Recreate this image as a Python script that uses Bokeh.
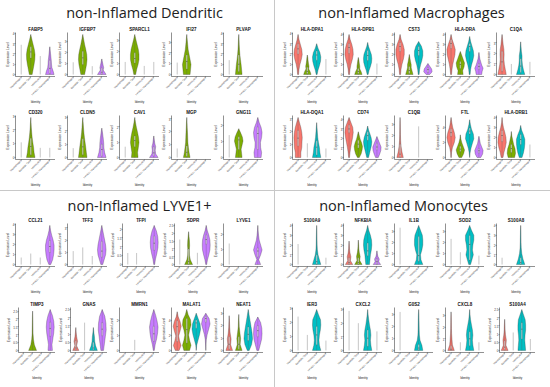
import math
from bokeh.plotting import figure
from bokeh.models import Range1d, FixedTicker, Div, Spacer
from bokeh.layouts import row, column
from bokeh.core.properties import value
from bokeh.embed import file_html
from bokeh.resources import INLINE

GROUPS = ["Macrophages", "Dendritic Cells", "Monocytes", "LYVE1+ Macrophages"]
COLORS = ["#F8766D", "#7CAE00", "#00BFC4", "#C77CFF"]

DEN_TITLE = "non-Inflamed Dendritic"
DEN_GENES = ["FABP5", "IGFBP7", "SPARCL1", "IFI27", "PLVAP",
             "CD320", "CLDN5", "CAV1", "MGP", "GNG11"]
DEN_STEP = [1, 1, 1, 1, 1, 1, 1, 1, 1, 1]
DEN_TOP = [[2.9, 3.9, 1.8, 2.7], [1.1, 3.6, 0.75, 1.4], [1.1, 3.5, 0.75, 1.1],
           [1.1, 3.7, 0.0, 0.0], [1.4, 3.9, 0.0, 0.0], [1.1, 2.9, 0.7, 0.7],
           [0.7, 3.0, 0.0, 2.2], [0.7, 2.6, 0.0, 1.4], [0.7, 3.1, 0.0, 0.0],
           [1.4, 1.8, 0.0, 2.5]]
DEN_WIDTH = [
    [[], [0.15, 0.25, 0.35, 0.43, 0.45, 0.38, 0.25, 0.12], [], [0.45, 0.35, 0.22, 0.18, 0.16, 0.12, 0.08, 0.04]],
    [[], [0.2, 0.3, 0.4, 0.45, 0.42, 0.32, 0.2, 0.1], [], [0.45, 0.3, 0.15, 0.2, 0.15, 0.1, 0.05]],
    [[], [0.1, 0.2, 0.35, 0.45, 0.45, 0.38, 0.25, 0.12], [], []],
    [[], [0.35, 0.4, 0.45, 0.35, 0.25, 0.15, 0.1, 0.05], [], []],
    [[], [0.35, 0.3, 0.25, 0.18, 0.12, 0.08, 0.05, 0.03], [], []],
    [[], [0.45, 0.35, 0.3, 0.22, 0.15, 0.1, 0.06, 0.03], [], []],
    [[], [0.45, 0.38, 0.32, 0.25, 0.18, 0.12, 0.08, 0.04], [], [0.45, 0.3, 0.22, 0.2, 0.15, 0.08]],
    [[], [0.35, 0.3, 0.38, 0.45, 0.4, 0.3, 0.18, 0.08], [], [0.45, 0.2, 0.15, 0.2, 0.1, 0.05]],
    [[], [0.35, 0.25, 0.18, 0.12, 0.1, 0.08, 0.05, 0.03], [], []],
    [[], [0.35, 0.3, 0.25, 0.35, 0.45, 0.38, 0.2], [], [0.35, 0.4, 0.3, 0.28, 0.4, 0.45, 0.35, 0.15]],
]
DEN_BOX = [
    [None, (1.6, 2.2, 2.7), None, (0.1, 0.6, 1.4)],
    [None, (0.9, 1.5, 2.1), None, (0.05, 0.2, 0.6)],
    [None, (1.0, 1.4, 1.9), None, None],
    [None, (0.5, 1.2, 1.8), None, None],
    [None, (0.3, 1.0, 1.9), None, None],
    [None, (0.2, 0.8, 1.4), None, None],
    [None, (0.2, 0.8, 1.4), None, (0.1, 0.6, 1.0)],
    [None, (0.7, 1.1, 1.4), None, (0.1, 0.3, 0.7)],
    [None, (0.1, 0.4, 0.9), None, None],
    [None, (0.5, 1.1, 1.3), None, (0.5, 1.5, 1.9)],
]

MAC_TITLE = "non-Inflamed Macrophages"
MAC_GENES = ["HLA-DPA1", "HLA-DPB1", "CST3", "HLA-DRA", "C1QA",
             "HLA-DQA1", "CD74", "C1QB", "FTL", "HLA-DRB1"]
MAC_STEP = [1, 1, 1, 1, 1, 1, 1, 1, 2, 1]
MAC_TOP = [[3.9, 1.9, 3.0, 1.5], [4.0, 1.7, 3.2, 1.1], [4.0, 2.0, 3.3, 1.1],
           [4.0, 2.3, 3.8, 2.2], [3.8, 1.0, 3.1, 1.2], [3.1, 1.1, 2.7, 0.7],
           [4.2, 2.7, 3.3, 2.2], [3.6, 0.0, 2.8, 0.0], [5.3, 3.0, 5.0, 2.8],
           [4.0, 2.6, 3.2, 1.3]]
MAC_WIDTH = [
    [[0.05, 0.1, 0.2, 0.35, 0.45, 0.4, 0.25, 0.1], [0.4, 0.3, 0.15, 0.18, 0.12, 0.08, 0.05],
     [0.05, 0.15, 0.3, 0.42, 0.45, 0.35, 0.15], []],
    [[0.05, 0.1, 0.2, 0.35, 0.45, 0.42, 0.3, 0.12], [0.4, 0.3, 0.15, 0.15, 0.1, 0.06],
     [0.05, 0.15, 0.3, 0.42, 0.45, 0.4, 0.25, 0.1], []],
    [[0.05, 0.1, 0.2, 0.35, 0.45, 0.45, 0.32, 0.12], [0.4, 0.3, 0.2, 0.2, 0.12, 0.06],
     [0.05, 0.1, 0.2, 0.35, 0.45, 0.45, 0.3], [0.2, 0.45, 0.4, 0.2]],
    [[0.05, 0.1, 0.18, 0.3, 0.42, 0.45, 0.3, 0.12], [0.3, 0.25, 0.4, 0.45, 0.3, 0.15],
     [0.05, 0.1, 0.2, 0.35, 0.45, 0.4, 0.25, 0.1], [0.3, 0.35, 0.45, 0.3, 0.2, 0.1, 0.05]],
    [[0.45, 0.35, 0.25, 0.2, 0.22, 0.2, 0.12, 0.06], [],
     [0.45, 0.3, 0.2, 0.15, 0.15, 0.08, 0.04], []],
    [[0.3, 0.3, 0.4, 0.42, 0.45, 0.4, 0.3, 0.15], [],
     [0.45, 0.35, 0.3, 0.2, 0.12, 0.08, 0.04], []],
    [[0.05, 0.1, 0.18, 0.28, 0.38, 0.45, 0.4, 0.2], [0.1, 0.3, 0.4, 0.45, 0.35, 0.2, 0.1],
     [0.1, 0.2, 0.3, 0.4, 0.45, 0.38, 0.25, 0.1], [0.15, 0.3, 0.42, 0.45, 0.3, 0.15]],
    [[0.35, 0.2, 0.1, 0.06, 0.04, 0.03, 0.02], [], [], []],
    [[0.02, 0.05, 0.15, 0.35, 0.45, 0.35, 0.18, 0.08], [0.15, 0.35, 0.45, 0.3, 0.15, 0.05],
     [0.0, 0.05, 0.15, 0.3, 0.45, 0.4, 0.2, 0.08], [0.2, 0.4, 0.45, 0.3, 0.15, 0.08]],
    [[0.1, 0.2, 0.35, 0.45, 0.42, 0.3, 0.15, 0.05], [0.35, 0.45, 0.4, 0.25, 0.15, 0.05],
     [0.15, 0.3, 0.4, 0.45, 0.45, 0.3, 0.1], []],
]
MAC_BOX = [
    [(2.0, 2.5, 3.0), (0.1, 0.3, 0.7), (1.4, 1.9, 2.3), None],
    [(2.1, 2.7, 3.1), (0.1, 0.3, 0.6), (1.4, 1.9, 2.4), None],
    [(2.3, 2.8, 3.2), (0.1, 0.4, 0.8), (1.9, 2.4, 2.8), (0.2, 0.5, 0.7)],
    [(2.6, 3.1, 3.5), (0.6, 1.0, 1.3), (2.3, 2.8, 3.1), (0.5, 0.8, 1.1)],
    [(0.3, 1.2, 2.2), None, (0.2, 0.8, 1.5), None],
    [(0.9, 1.5, 2.1), None, (0.2, 0.8, 1.3), None],
    [(2.6, 3.0, 3.4), (1.0, 1.4, 1.8), (1.8, 2.3, 2.7), (0.8, 1.1, 1.5)],
    [(0.05, 0.3, 1.2), None, None, None],
    [(2.8, 3.3, 3.8), (0.8, 1.1, 1.5), (3.1, 3.5, 3.9), (0.6, 0.9, 1.2)],
    [(1.6, 2.2, 2.7), (0.5, 0.9, 1.3), (1.3, 1.8, 2.3), None],
]

LYV_TITLE = "non-Inflamed LYVE1+"
LYV_GENES = ["CCL21", "TFF3", "TFPI", "SDPR", "LYVE1",
             "TIMP3", "GNAS", "MMRN1", "MALAT1", "NEAT1"]
LYV_STEP = [1, 1, 0.5, 0.5, 1, 0.5, 0.5, 1, 2, 1]
LYV_TOP = [[0.7, 1.1, 0.7, 3.9], [1.1, 1.4, 0.7, 3.2], [0.65, 0.65, 0.0, 2.2],
           [1.6, 2.1, 0.75, 2.5], [1.4, 0.0, 0.0, 2.6], [0.0, 2.5, 0.0, 2.6],
           [1.4, 1.7, 1.4, 2.5], [0.0, 0.7, 0.0, 2.7], [5.2, 5.5, 5.0, 5.0],
           [2.8, 2.9, 3.3, 2.7]]
LYV_WIDTH = [
    [[], [], [], [0.1, 0.3, 0.4, 0.45, 0.45, 0.35, 0.2, 0.08]],
    [[], [], [], [0.1, 0.25, 0.4, 0.45, 0.4, 0.3, 0.2, 0.1]],
    [[], [], [], [0.05, 0.15, 0.3, 0.42, 0.45, 0.4, 0.25]],
    [[], [0.45, 0.2, 0.1, 0.08, 0.12, 0.1, 0.05], [], [0.05, 0.15, 0.3, 0.42, 0.45, 0.42, 0.3, 0.12]],
    [[], [], [], [0.3, 0.1, 0.3, 0.45, 0.3, 0.15, 0.08, 0.03]],
    [[], [0.45, 0.2, 0.1, 0.05, 0.04, 0.03, 0.02], [], [0.25, 0.2, 0.3, 0.4, 0.45, 0.4, 0.25]],
    [[0.35, 0.1, 0.2, 0.1, 0.04], [], [0.45, 0.25, 0.15, 0.12, 0.05], [0.15, 0.25, 0.35, 0.45, 0.42, 0.3]],
    [[], [], [], [0.05, 0.15, 0.3, 0.4, 0.45, 0.35, 0.2]],
    [[0.2, 0.4, 0.25, 0.15, 0.3, 0.42, 0.3, 0.1], [0.3, 0.45, 0.3, 0.2, 0.3, 0.45, 0.4, 0.15],
     [0.0, 0.05, 0.2, 0.35, 0.45, 0.4, 0.2], [0.0, 0.02, 0.05, 0.15, 0.3, 0.45, 0.35]],
    [[0.35, 0.15, 0.2, 0.1, 0.05, 0.03], [0.35, 0.15, 0.2, 0.12, 0.05, 0.03],
     [0.1, 0.35, 0.45, 0.4, 0.3, 0.2, 0.1], [0.1, 0.25, 0.4, 0.45, 0.42, 0.3]],
]
LYV_BOX = [
    [None, None, None, (1.2, 1.8, 2.4)],
    [None, None, None, (0.6, 1.1, 1.9)],
    [None, None, None, (0.8, 1.2, 1.6)],
    [None, (0.02, 0.2, 1.0), None, (1.3, 1.6, 1.9)],
    [None, None, None, (0.5, 0.9, 1.1)],
    [None, None, None, (0.9, 1.4, 1.8)],
    [(0.05, 0.15, 0.6), None, (0.05, 0.15, 0.5), (0.9, 1.3, 1.7)],
    [None, None, None, (0.6, 1.1, 1.6)],
    [(1.2, 3.2, 4.0), (1.0, 2.8, 4.3), (3.0, 3.7, 4.1), (3.8, 4.3, 4.6)],
    [(0.1, 0.5, 1.1), (0.1, 0.5, 1.1), (0.8, 1.3, 1.9), (1.1, 1.6, 2.0)],
]

MON_TITLE = "non-Inflamed Monocytes"
MON_GENES = ["S100A9", "NFKBIA", "IL1B", "SOD2", "S100A8",
             "IER3", "CXCL2", "G0S2", "CXCL8", "S100A4"]
MON_STEP = [1, 1, 1, 1, 1, 1, 1, 1, 1, 0.5]
MON_TOP = [[2.1, 0.0, 4.0, 0.7], [2.4, 2.5, 4.0, 1.4], [3.3, 0.0, 3.5, 0.0],
           [2.3, 1.1, 3.5, 0.8], [0.7, 0.0, 4.0, 0.0], [2.4, 1.1, 2.9, 0.7],
           [2.9, 2.0, 3.0, 1.4], [3.2, 0.0, 3.4, 0.0], [3.3, 0.7, 3.5, 0.7],
           [1.9, 1.1, 2.5, 0.7]]
MON_WIDTH = [
    [[], [], [0.45, 0.3, 0.15, 0.08, 0.05, 0.04, 0.03, 0.02], []],
    [[0.4, 0.15, 0.2, 0.1, 0.05, 0.03], [0.4, 0.15, 0.2, 0.1, 0.05, 0.03],
     [0.2, 0.25, 0.3, 0.4, 0.45, 0.42, 0.3, 0.12], [0.4, 0.2, 0.25, 0.1, 0.04]],
    [[], [], [0.45, 0.25, 0.2, 0.35, 0.45, 0.45, 0.4, 0.2], []],
    [[], [], [0.1, 0.25, 0.4, 0.3, 0.35, 0.45, 0.45, 0.2], []],
    [[], [], [0.45, 0.25, 0.12, 0.06, 0.04, 0.03, 0.02], []],
    [[], [], [0.45, 0.3, 0.25, 0.3, 0.4, 0.45, 0.42, 0.2], []],
    [[], [], [0.45, 0.35, 0.3, 0.35, 0.3, 0.2, 0.12, 0.05], []],
    [[], [], [0.45, 0.35, 0.15, 0.08, 0.06, 0.05, 0.04, 0.03], []],
    [[0.35, 0.15, 0.1, 0.06, 0.04, 0.03, 0.02], [], [0.45, 0.35, 0.3, 0.35, 0.3, 0.2, 0.1, 0.04], []],
    [[0.4, 0.15, 0.2, 0.1, 0.05, 0.03], [], [0.45, 0.4, 0.35, 0.38, 0.45, 0.45, 0.4, 0.2], []],
]
MON_BOX = [
    [None, None, (0.05, 0.3, 1.0), None],
    [(0.05, 0.2, 0.7), (0.05, 0.2, 0.7), (0.9, 1.4, 2.2), (0.05, 0.3, 0.6)],
    [None, None, (0.3, 0.8, 2.5), None],
    [None, None, (0.4, 1.8, 2.6), None],
    [None, None, (0.05, 0.2, 0.7), None],
    [None, None, (0.4, 1.1, 1.7), None],
    [None, None, (0.3, 0.9, 1.5), None],
    [None, None, (0.05, 0.2, 0.5), None],
    [(0.02, 0.1, 0.4), None, (0.4, 1.0, 1.6), None],
    [(0.05, 0.2, 0.6), None, (0.7, 1.3, 1.7), None],
]

FONT = "Liberation Sans"
LINE_GRAY = "#c8c8c8"


def mini(gene, tops, widths, boxes, step, w, h, btop, bbot):
    dmax = max(tops)
    p = figure(width=w, height=h, output_backend="svg", toolbar_location=None,
               x_range=Range1d(0.4, 4.6), y_range=Range1d(-0.05 * dmax, 1.05 * dmax),
               min_border_left=10, min_border_right=0, min_border_top=btop,
               min_border_bottom=bbot, title=gene, margin=0)
    p.title.text_font = FONT
    p.title.text_font_size = "4.5px"
    p.title.text_font_style = "bold"
    p.title.align = "center"
    p.title.standoff = 2
    p.title.text_color = "#111111"
    p.outline_line_color = None
    p.grid.visible = False
    p.background_fill_color = "white"
    p.border_fill_color = "white"

    for gi in range(4):
        c = gi + 1
        top = tops[gi]
        ws = widths[gi]
        if top <= 0:
            continue
        if ws:
            n = len(ws)
            lv = [top * k / n for k in range(n + 1)]
            wf = list(ws) + [0.0]
            xs = [c + w_ for w_ in wf] + [c - w_ for w_ in reversed(wf)]
            ys = lv + list(reversed(lv))
            p.patch(xs, ys, fill_color=COLORS[gi], line_color="#333333", line_width=0.3)
            p.segment(x0=[c], y0=[0], x1=[c], y1=[top], line_color="#555555", line_width=0.4, line_alpha=0.7)
        else:
            p.segment(x0=[c], y0=[0], x1=[c], y1=[top], line_color="#a0a0a0", line_width=0.6)
        b = boxes[gi]
        if b is not None:
            q1, med, q3 = b
            p.quad(left=[c - 0.07], right=[c + 0.07], bottom=[q1], top=[q3],
                   fill_color="white", fill_alpha=0.6, line_color="#666666", line_width=0.3)
            p.segment(x0=[c - 0.07], y0=[med], x1=[c + 0.07], y1=[med], line_color="#333333", line_width=0.5)

    yt = []
    v = 0.0
    while v <= 1.05 * dmax + 1e-9:
        yt.append(round(v, 2))
        v += step
    p.yaxis.ticker = FixedTicker(ticks=yt)
    p.xaxis.ticker = FixedTicker(ticks=[1, 2, 3, 4])
    p.xaxis.major_label_overrides = {1: GROUPS[0], 2: GROUPS[1], 3: GROUPS[2], 4: GROUPS[3]}
    p.xaxis.major_label_orientation = math.pi / 4
    p.xaxis.axis_label = "Identity"
    p.yaxis.axis_label = "Expression Level"
    for ax in (p.xaxis[0], p.yaxis[0]):
        ax.axis_line_width = 0.5
        ax.axis_line_color = "#222222"
        ax.major_tick_line_width = 0.4
        ax.major_tick_line_color = "#222222"
        ax.major_tick_out = 1
        ax.major_tick_in = 0
        ax.minor_tick_line_color = None
        ax.major_label_text_font = FONT
        ax.major_label_text_color = "#333333"
        ax.major_label_standoff = 0
        ax.axis_label_text_font = FONT
        ax.axis_label_text_font_style = "normal"
        ax.axis_label_text_color = "#222222"
        ax.axis_label_standoff = 0
    p.xaxis.major_label_text_font_size = "2.5px"
    p.yaxis.major_label_text_font_size = "3px"
    p.xaxis.axis_label_text_font_size = "3px"
    p.yaxis.axis_label_text_font_size = "3.2px"
    return p


def title_fig(text, w, h, cx, mid_from_bottom):
    p = figure(width=w, height=h, output_backend="svg", toolbar_location=None, title=None,
               x_range=Range1d(0, w), y_range=Range1d(0, h), margin=0,
               min_border=0, min_border_left=0, min_border_right=0,
               min_border_top=0, min_border_bottom=0,
               x_axis_location=None, y_axis_location=None)
    p.grid.visible = False
    p.outline_line_color = None
    p.background_fill_color = "white"
    p.border_fill_color = "white"
    p.text(x=[cx], y=[mid_from_bottom], text=[text], text_align="center",
           text_baseline="middle", text_font=value("Open Sans"),
           text_font_size="14.5px", text_color="#222222")
    return p


def quadrant(title, genes, tops, widths, boxes, steps, qw, cell_w, pad_l,
             title_h, title_cx, title_mid, row_specs):
    parts = [title_fig(title, qw, title_h, title_cx, title_mid)]
    for r, (h, btop, bbot) in enumerate(row_specs):
        figs = [mini(genes[r * 5 + k], tops[r * 5 + k], widths[r * 5 + k], boxes[r * 5 + k],
                     steps[r * 5 + k], cell_w, h, btop, bbot) for k in range(5)]
        pad_r = qw - pad_l - 5 * cell_w
        parts.append(row(Spacer(width=pad_l, height=h, margin=0), *figs,
                         Spacer(width=pad_r, height=h, margin=0), margin=0, spacing=0))
    return column(*parts, margin=0, spacing=0)


def vline(h):
    return Div(text="", width=1, height=h, margin=0, styles={"background-color": LINE_GRAY})


TOP_ROWS = [(83, 7, 30), (84, 9, 31)]
BOT_ROWS = [(82, 7, 29), (91, 11, 35)]

q1 = quadrant(DEN_TITLE, DEN_GENES, DEN_TOP, DEN_WIDTH, DEN_BOX, DEN_STEP,
              274, 52, 3, 23, 144, 11.5, TOP_ROWS)
q2 = quadrant(MAC_TITLE, MAC_GENES, MAC_TOP, MAC_WIDTH, MAC_BOX, MAC_STEP,
              275, 51, 5, 23, 136, 11.5, TOP_ROWS)
q3 = quadrant(LYV_TITLE, LYV_GENES, LYV_TOP, LYV_WIDTH, LYV_BOX, LYV_STEP,
              274, 52, 3, 23, 139, 9.5, BOT_ROWS)
q4 = quadrant(MON_TITLE, MON_GENES, MON_TOP, MON_WIDTH, MON_BOX, MON_STEP,
              275, 51, 5, 23, 128, 9.5, BOT_ROWS)

hline = Div(text="", width=550, height=1, margin=0, styles={"background-color": LINE_GRAY})
top_half = row(q1, vline(190), q2, margin=0, spacing=0)
bot_half = row(q3, vline(196), q4, margin=0, spacing=0)
page = column(top_half, hline, bot_half, margin=0, spacing=0)

open("out.html", "w").write(file_html(page, INLINE))
